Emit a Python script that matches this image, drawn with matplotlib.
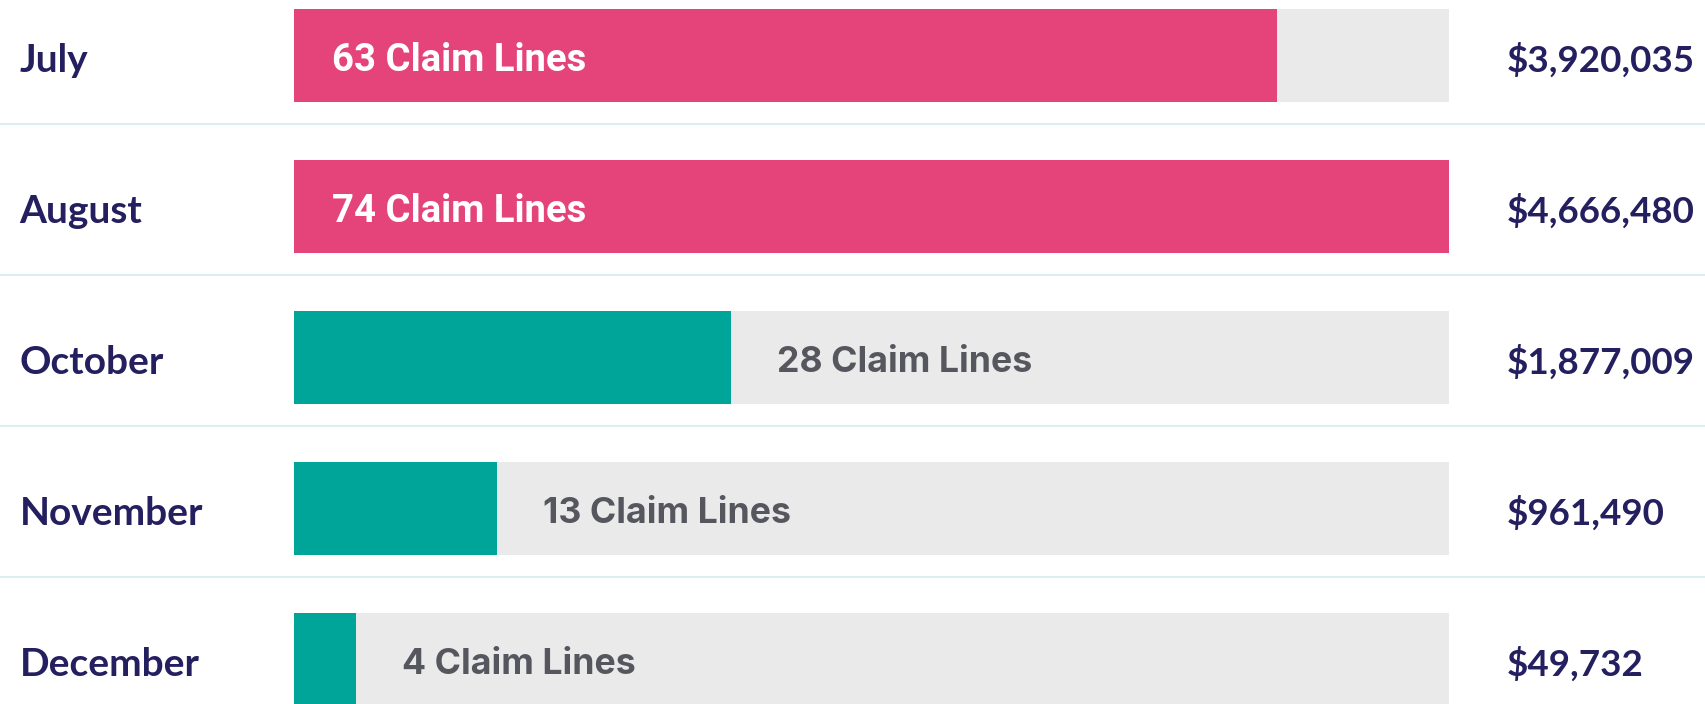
import matplotlib
matplotlib.use("Agg")
from matplotlib import pyplot as plt
from matplotlib.lines import Line2D
import matplotlib.transforms as mtransforms

months = ["July", "August", "October", "November", "December"]
claim_lines = [63, 74, 28, 13, 4]
amounts = [3920035, 4666480, 1877009, 961490, 49732]

PINK = "#E5447A"
TEAL = "#00A59A"
TRACK = "#EAEAEA"
NAVY = "#241F5E"
GREY_TXT = "#55565E"
SEP = "#D5ECEC"

W, H, DPI = 1706, 704, 100
fig = plt.figure(figsize=(W / DPI, H / DPI), dpi=DPI)

# axes spans bar track area horizontally, full height vertically
left_px, track_px = 294, 1155
ax = fig.add_axes([left_px / W, 0, track_px / W, 1])
pitch = 151.0
first = 55.5
ax.set_ylim((H - first) / pitch, -first / pitch)
top = max(claim_lines)
ax.set_xlim(0, top)
ax.axis("off")

rows = list(range(len(months)))
bh = 93.6 / pitch

ax.barh(rows, [top] * len(rows), height=bh, color=TRACK, zorder=1)
colors = [PINK if v > top / 2 else TEAL for v in claim_lines]
ax.barh(rows, claim_lines, height=bh, color=colors, zorder=2)

tr = mtransforms.blended_transform_factory(fig.transFigure, ax.transData)
drop = -5  # pixels, text sits a bit below bar centre

for i, (m, v, a) in enumerate(zip(months, claim_lines, amounts)):
    ax.annotate(m, (19.5 / W, i), xycoords=tr, xytext=(0, drop), textcoords="offset pixels",
                ha="left", va="center", fontsize=28, fontweight="bold", family="Lato", color=NAVY)
    ax.annotate(f"${a:,}", (1507 / W, i), xycoords=tr, xytext=(0, drop), textcoords="offset pixels",
                ha="left", va="center", fontsize=26.5, fontweight="bold", family="Lato", color=NAVY)
    if v > top / 2:
        ax.annotate(f"{v} Claim Lines", (0, i), xytext=(38, drop), textcoords="offset pixels",
                    ha="left", va="center", fontsize=27.5, fontweight="bold",
                    family="Roboto", color="white", zorder=3)
    else:
        ax.annotate(f"{v} Claim Lines", (v, i), xytext=(46, drop), textcoords="offset pixels",
                    ha="left", va="center", fontsize=25.7, fontweight="bold",
                    family="Inter", color=GREY_TXT, zorder=3)

# thin separators between rows, across the whole figure
for i in rows[:-1]:
    fig.add_artist(Line2D([0, 1], [i + 0.455, i + 0.455], transform=tr,
                          color=SEP, linewidth=1.2))

fig.savefig("out.png", dpi=DPI, facecolor="white")
